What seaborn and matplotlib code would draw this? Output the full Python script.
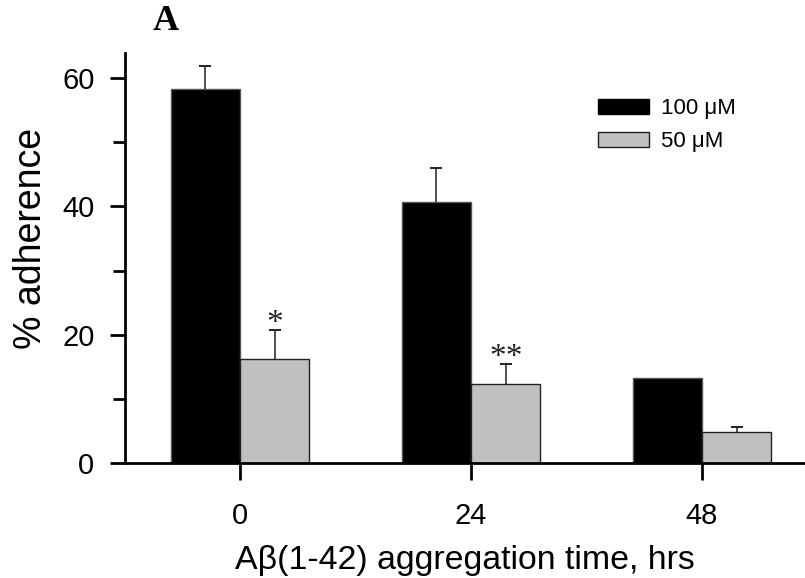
import numpy as np
import pandas as pd
import matplotlib
matplotlib.use("Agg")
import matplotlib.pyplot as plt
import seaborn as sns
from matplotlib.ticker import MultipleLocator

# Adherence (%) by aggregation time for two peptide concentrations
times = ["0", "24", "48"]
conc_labels = ["100 \u03bcM", "50 \u03bcM"]
adh_100 = [58.2, 40.6, 13.2]
adh_50 = [16.3, 12.3, 4.8]
sem_100 = [3.6, 5.4, 0.0]
sem_50 = [4.4, 3.1, 0.9]
marks_50 = ["*", "**", ""]

df = pd.DataFrame({
    "time": times * 2,
    "conc": [conc_labels[0]] * 3 + [conc_labels[1]] * 3,
    "adh": adh_100 + adh_50,
})

sns.set_theme(style="ticks")
plt.rcParams["font.family"] = ["Liberation Sans", "DejaVu Sans"]
plt.rcParams["text.color"] = "black"
plt.rcParams["axes.labelcolor"] = "black"

fig = plt.figure(figsize=(8.05, 5.78), dpi=100)
ax = fig.add_axes([125 / 805, 114.7 / 578, 680 / 805, 410.6 / 578])

sns.barplot(data=df, x="time", y="adh", hue="conc", hue_order=conc_labels,
            palette=["black", "#c0c0c0"], width=0.6, errorbar=None,
            ax=ax, legend=True, zorder=2)

# Edge colours: soft grey outline on black bars, dark outline on grey bars
for cont, ec in zip(ax.containers, ["#555555", "#222222"]):
    for p in cont:
        p.set_edgecolor(ec)
        p.set_linewidth(1.0)

# Upper-only SEM whiskers and significance marks
for cont, vals, errs, marks in zip(ax.containers, [adh_100, adh_50],
                                   [sem_100, sem_50], [[""] * 3, marks_50]):
    for p, v, e, m in zip(cont, vals, errs, marks):
        xc = p.get_x() + p.get_width() / 2
        if e > 0:
            ax.errorbar(xc, v, yerr=[[0], [e]], fmt="none", ecolor="#222222",
                        elinewidth=1.1, capsize=0, zorder=3)
            ax.plot([xc], [v + e], marker="_", markersize=8, mew=1.4,
                    color="#222222", zorder=3)
        if m:
            ax.annotate(m, (xc, v + e), xytext=(0, -1.5),
                        textcoords="offset points", ha="center",
                        va="baseline", fontsize=24, color="#222222",
                        family=["Liberation Serif", "DejaVu Serif"])

ax.set_xlim(-0.498, 2.446)
ax.set_ylim(0, 63.9)
ax.yaxis.set_major_locator(MultipleLocator(20))
ax.yaxis.set_minor_locator(MultipleLocator(10))
sns.despine(ax=ax)
for s in ["left", "bottom"]:
    ax.spines[s].set_linewidth(2.0)
    ax.spines[s].set_color("black")
ax.tick_params(axis="y", which="major", length=11, width=2.0, pad=11,
               labelsize=21, colors="black")
ax.tick_params(axis="y", which="minor", length=8.5, width=2.0, colors="black")
ax.tick_params(axis="x", which="major", length=12, width=2.0, pad=16,
               labelsize=21, colors="black")

ax.set_xlabel("A\u03b2(1-42) aggregation time, hrs", fontsize=24.4, labelpad=11)
ax.set_ylabel("% adherence", fontsize=27)
ax.yaxis.set_label_coords(-76 / 680, (463.3 - 238) / 410.6)

leg = ax.legend(loc="upper left", bbox_to_anchor=(598 / 805, 1 - 98 / 578),
                bbox_transform=fig.transFigure, frameon=False, fontsize=16,
                handlelength=2.3, handleheight=0.65, handletextpad=0.55,
                labelspacing=0.55, borderpad=0, borderaxespad=0, title=None)
for h, ec in zip(leg.legend_handles, ["black", "#222222"]):
    h.set_edgecolor(ec)
    h.set_linewidth(1.0)

fig.text(166 / 805, 1 - 21 / 578, "A", ha="center", va="center",
         fontsize=26, fontweight="bold", color="black",
         family=["Liberation Serif", "DejaVu Serif"])

fig.savefig("out.png", dpi=100)
